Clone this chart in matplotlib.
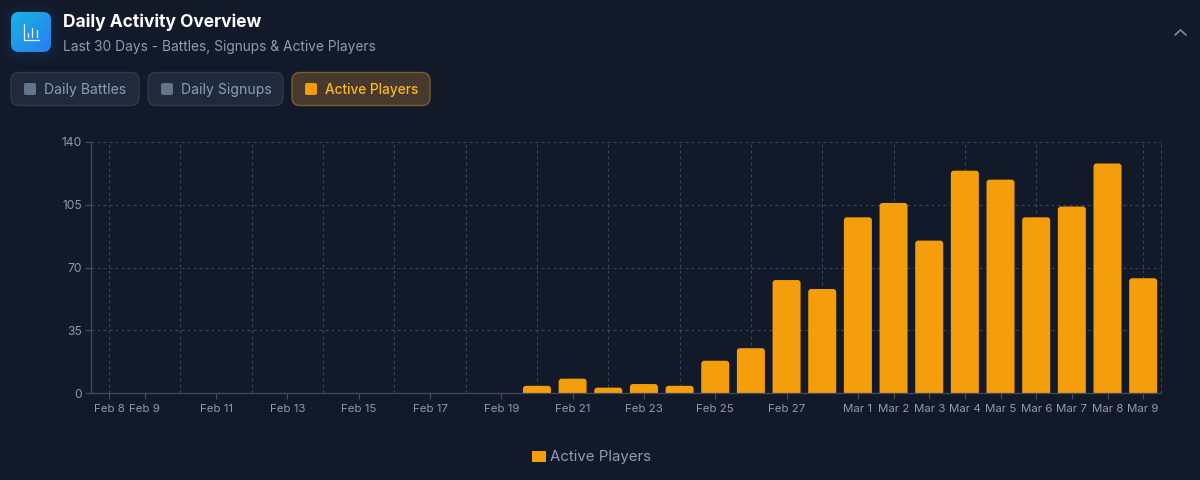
import numpy as np
import matplotlib
matplotlib.use("Agg")
import matplotlib.pyplot as plt
from matplotlib.patches import FancyBboxPatch, PathPatch, Rectangle
from matplotlib.path import Path

plt.rcParams["font.family"] = ["Inter", "DejaVu Sans"]

days = ["Feb 8", "Feb 9", "Feb 10", "Feb 11", "Feb 12", "Feb 13", "Feb 14", "Feb 15", "Feb 16", "Feb 17",
        "Feb 18", "Feb 19", "Feb 20", "Feb 21", "Feb 22", "Feb 23", "Feb 24", "Feb 25", "Feb 26", "Feb 27",
        "Feb 28", "Mar 1", "Mar 2", "Mar 3", "Mar 4", "Mar 5", "Mar 6", "Mar 7", "Mar 8", "Mar 9"]
active_players = [0, 0, 0, 0, 0, 0, 0, 0, 0, 0,
                  0, 0, 4, 8, 3, 5, 4, 18, 25, 63,
                  58, 98, 106, 85, 124, 119, 98, 104, 128, 64]
labelled_days = ["Feb 8", "Feb 9", "Feb 11", "Feb 13", "Feb 15", "Feb 17", "Feb 19", "Feb 21", "Feb 23",
                 "Feb 25", "Feb 27", "Mar 1", "Mar 2", "Mar 3", "Mar 4", "Mar 5", "Mar 6", "Mar 7", "Mar 8", "Mar 9"]
grid_days = ["Feb 8", "Feb 10", "Feb 12", "Feb 14", "Feb 16", "Feb 18", "Feb 20", "Feb 22", "Feb 24",
             "Feb 26", "Feb 28", "Mar 2", "Mar 4", "Mar 6", "Mar 9"]
y_ticks = [0, 35, 70, 105, 140]

BG = "#121929"
ORANGE = "#f59e0b"
MUTED = "#8f9bb0"
AXIS = "#414c5e"
GRID = "#334858"

fig = plt.figure(figsize=(12, 4.8), dpi=100, facecolor=BG)


def px(size):
    # css pixels to points
    return size * 0.72


# full figure layer in pixel coords for the header, buttons and legend
ui = fig.add_axes([0, 0, 1, 1], zorder=0)
ui.set_xlim(0, 1200)
ui.set_ylim(480, 0)
ui.axis("off")


def rounded(x0, y0, x1, y1, r, **kw):
    p = FancyBboxPatch((x0 + r, y0 + r), x1 - x0 - 2 * r, y1 - y0 - 2 * r,
                       boxstyle=f"round,pad={r},rounding_size={r}", **kw)
    ui.add_patch(p)
    return p


# icon glow
for g in range(10, 0, -1):
    rounded(11 - g, 14 - g, 51 + g, 54 + g, 8 + g, fc="#1f8fe8", ec="none", alpha=0.015)

# icon with gradient
clip = rounded(11, 12, 51, 52, 8, fc="none", ec="none")
xx, yy = np.meshgrid(np.linspace(0, 1, 40), np.linspace(0, 1, 40))
t = (xx + yy) / 2
c0 = np.array([0x18, 0xb4, 0xe0]) / 255
c1 = np.array([0x2b, 0x7c, 0xf2]) / 255
grad = c0 + (c1 - c0) * t[..., None]
im = ui.imshow(grad, extent=(11, 51, 52, 12), zorder=2, aspect="auto")
im.set_clip_path(clip)
ui.set_xlim(0, 1200)
ui.set_ylim(480, 0)
ui.plot([23.5, 23.5, 39], [24, 39.5, 39.5], color="#e6f4ff", lw=0.9, zorder=3, solid_capstyle="round")
for bx, by in [(28, 33), (32, 28), (36.5, 30)]:
    ui.plot([bx, bx], [by, 37], color="#e6f4ff", lw=0.9, zorder=3, solid_capstyle="round")

ui.text(63, 22.5, "Daily Activity Overview", color="white", fontsize=px(17.4), fontweight="bold", va="center", ha="left")
ui.text(63, 46.5, "Last 30 Days - Battles, Signups & Active Players", color=MUTED, fontsize=px(13.75), va="center", ha="left")
ui.plot([1175, 1180.5, 1186], [35, 30, 35], color="#7f8ba0", lw=1.2, solid_capstyle="round", solid_joinstyle="round")

# series toggle buttons
buttons = [("Daily Battles", 11, 139, False), ("Daily Signups", 148, 283, False), ("Active Players", 292, 430, True)]
for label, x0, x1, on in buttons:
    rounded(x0, 72.5, x1, 105.5, 8,
            fc="#473a2c" if on else "#1f2b3d", ec="#7a5d2c" if on else "#2d3a4d", lw=1)
    rounded(x0 + 13, 83, x0 + 25, 95, 2, fc=ORANGE if on else "#64748b", ec="none")
    ui.text(x0 + 33, 90, label, color="#fbb724" if on else MUTED, fontsize=px(13.6 if on else 14),
            fontweight="medium" if on else "normal", va="center", ha="left")

# legend
ui.add_patch(Rectangle((532, 451), 14, 11, fc=ORANGE, ec="none"))
ui.text(550, 456.5, "Active Players", color=MUTED, fontsize=px(15), va="center", ha="left")

# chart
ax = fig.add_axes([91.2 / 1200, 1 - 393 / 480, (1161 - 91.2) / 1200, (393 - 142) / 480], zorder=1)
ax.patch.set_alpha(0)
x = np.arange(len(days))
ax.set_xlim(-0.5, len(days) - 0.5)
ax.set_ylim(0, 140)

dash = (0, (2.7, 2.7))
ax.hlines(y_ticks[1:], -0.5, len(days) - 0.5, color=GRID, lw=0.8, linestyles=dash, zorder=1, clip_on=False)
ax.vlines([days.index(d) for d in grid_days], 0, 140, color=GRID, lw=0.8, linestyles=dash, zorder=1)
ax.vlines(len(days) - 0.5, 0, 140, color=GRID, lw=0.8, linestyles=dash, zorder=1, clip_on=False)

# bars with rounded top corners
bar_w = 0.785
rx = 3 / 35.66
ry = 3 / (251 / 140)
bars = ax.bar(x, active_players, width=bar_w, color="none", zorder=2)
for b in bars:
    h = b.get_height()
    if h <= 0:
        continue
    l, r = b.get_x(), b.get_x() + b.get_width()
    verts = [(l, 0), (l, h - ry), (l, h), (l + rx, h), (r - rx, h), (r, h), (r, h - ry), (r, 0), (l, 0)]
    codes = [Path.MOVETO, Path.LINETO, Path.CURVE3, Path.CURVE3, Path.LINETO, Path.CURVE3, Path.CURVE3,
             Path.LINETO, Path.CLOSEPOLY]
    ax.add_patch(PathPatch(Path(verts, codes), fc=ORANGE, ec="none", zorder=2))

for s in ["top", "right"]:
    ax.spines[s].set_visible(False)
for s in ["left", "bottom"]:
    ax.spines[s].set_color(AXIS)
    ax.spines[s].set_linewidth(0.9)
    ax.spines[s].set_zorder(3)

ax.set_yticks(y_ticks)
ax.set_xticks([days.index(d) for d in labelled_days])
ax.set_xticklabels(labelled_days)
ax.tick_params(axis="y", colors=AXIS, labelcolor=MUTED, labelsize=px(12), length=4.3, width=0.9, pad=2.5)
ax.tick_params(axis="x", colors=AXIS, labelcolor=MUTED, labelsize=px(11.5), length=4.3, width=0.9, pad=3.5)

fig.savefig("out.png", dpi=100, facecolor=BG)
